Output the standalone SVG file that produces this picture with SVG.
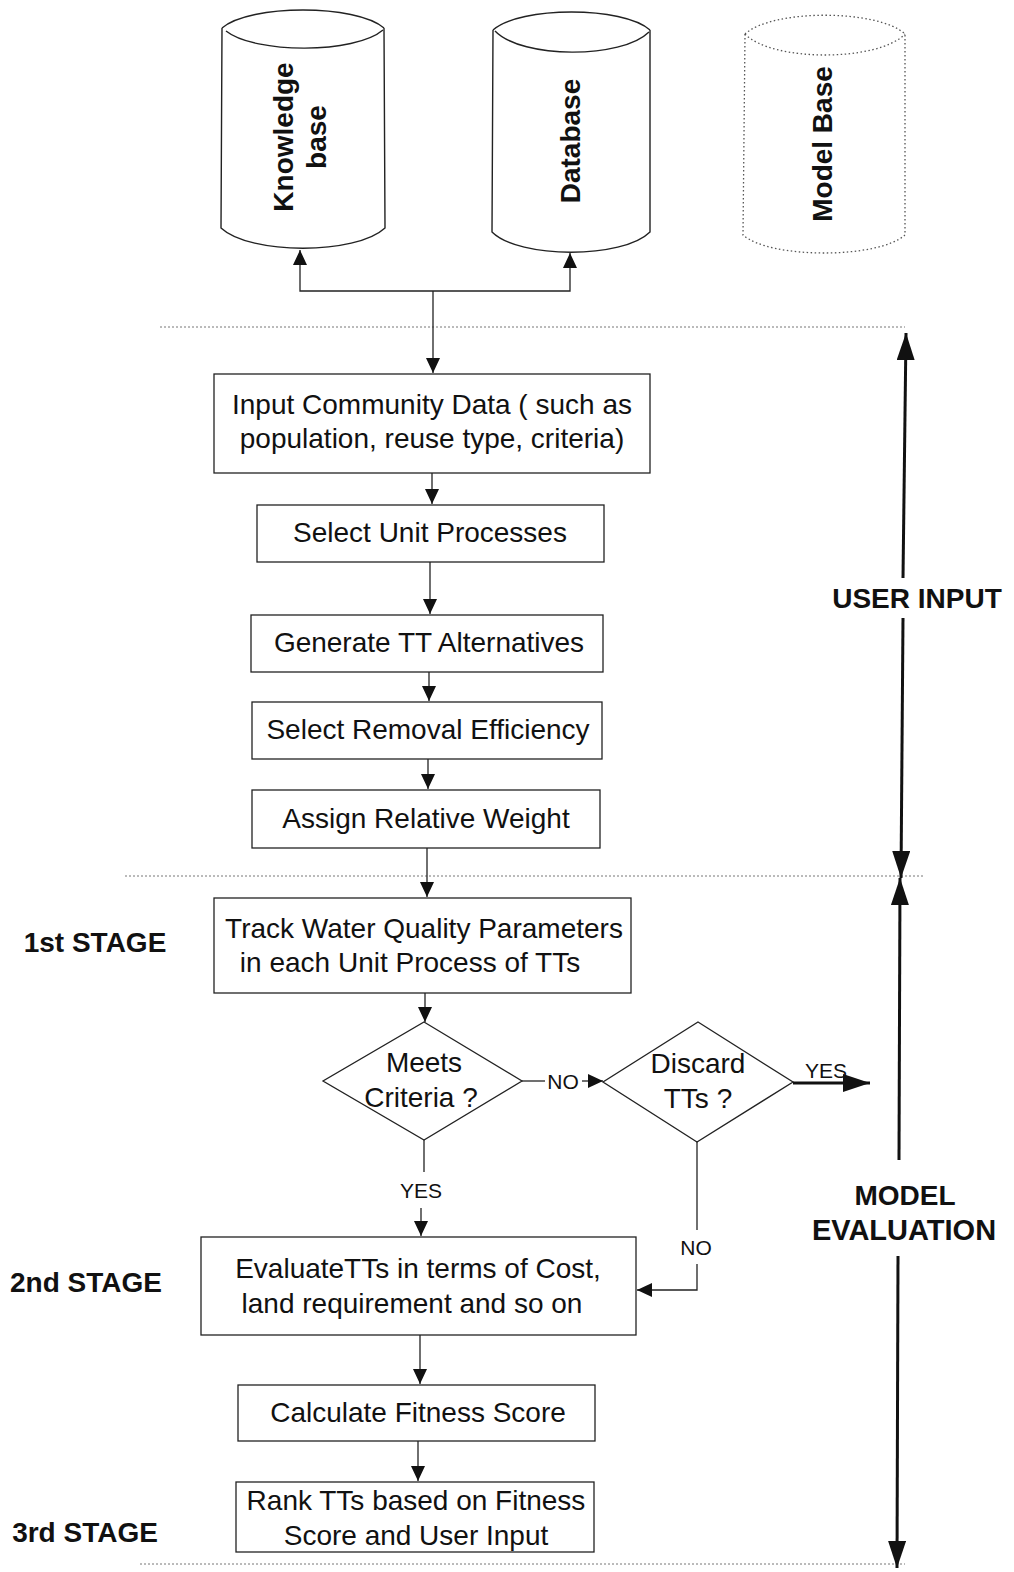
<svg xmlns="http://www.w3.org/2000/svg" width="1014" height="1572" viewBox="0 0 1014 1572">
<style>
.box{fill:#fff;stroke:#222;stroke-width:1.3}
.cyl{fill:none;stroke:#222;stroke-width:1.4}
.cyld{fill:none;stroke:#555;stroke-width:1.3;stroke-dasharray:1.5 2.5}
.t{font-family:"Liberation Sans",Arial,sans-serif;font-size:28px;fill:#111;text-anchor:middle}
.b{font-family:"Liberation Sans",Arial,sans-serif;font-size:28px;font-weight:bold;fill:#111;text-anchor:middle}
.s{font-family:"Liberation Sans",Arial,sans-serif;font-size:21px;fill:#111;text-anchor:middle}
.ln{fill:none;stroke:#222;stroke-width:1.3}
.lnb{fill:none;stroke:#111;stroke-width:3}
.dot{fill:none;stroke:#777;stroke-width:1;stroke-dasharray:2 2}
</style>
<defs>
<marker id="a" markerUnits="userSpaceOnUse" markerWidth="16" markerHeight="14" refX="15" refY="7" orient="auto"><path d="M0,0 L15,7 L0,14 Z" fill="#111"/></marker>
<marker id="A" markerUnits="userSpaceOnUse" markerWidth="28" markerHeight="18" refX="27" refY="9" orient="auto"><path d="M0,0 L27,9 L0,18 Z" fill="#111"/></marker>
</defs>
<g id="knowledge-base">
<path class="cyl" d="M222,28 C250,4 356,4 384,28"/>
<path class="cyl" d="M226,31 C255,54 355,54 383,30"/>
<path class="cyl" d="M222,28 L221,228 C250,255 356,255 385,228 L384,28"/>
<text class="b" transform="translate(293,137) rotate(-90)">Knowledge</text>
<text class="b" transform="translate(326,137) rotate(-90)">base</text>
</g>
<g id="database">
<path class="cyl" d="M493,30 C520,6 623,6 650,30"/>
<path class="cyl" d="M495,31 C522,59 622,59 649,32"/>
<path class="cyl" d="M493,30 L492,232 C519,259 623,259 650,232 L650,30"/>
<text class="b" transform="translate(580,141) rotate(-90)">Database</text>
</g>
<g id="model-base">
<path class="cyld" d="M745,34 C772,9 878,9 905,34"/>
<path class="cyld" d="M745,34 C772,62 878,62 905,34"/>
<path class="cyld" d="M745,34 L743,235 C770,259 878,259 905,235 L905,34"/>
<text class="b" transform="translate(832,144) rotate(-90)">Model Base</text>
</g>
<g id="separators">
<line class="dot" x1="160" y1="327" x2="905" y2="327"/>
<line class="dot" x1="125" y1="876" x2="925" y2="876"/>
<line class="dot" x1="140" y1="1564" x2="905" y2="1564"/>
</g>
<g id="input-community-data">
<rect class="box" x="214" y="374" width="436" height="99"/>
<text class="t" x="432" y="414">Input Community Data ( such as</text>
<text class="t" x="432" y="448">population, reuse type, criteria)</text>
</g>
<g id="select-unit-processes">
<rect class="box" x="257" y="505" width="347" height="57"/>
<text class="t" x="430" y="542">Select Unit Processes</text>
</g>
<g id="generate-tt-alternatives">
<rect class="box" x="251" y="615" width="352" height="57"/>
<text class="t" x="429" y="652">Generate TT Alternatives</text>
</g>
<g id="select-removal-efficiency">
<rect class="box" x="252" y="702" width="350" height="57"/>
<text class="t" x="428" y="739">Select Removal Efficiency</text>
</g>
<g id="assign-relative-weight">
<rect class="box" x="252" y="790" width="348" height="58"/>
<text class="t" x="426" y="828">Assign Relative Weight</text>
</g>
<g id="track-water-quality">
<rect class="box" x="214" y="898" width="417" height="95"/>
<text class="t" x="424" y="938">Track Water Quality Parameters</text>
<text class="t" x="410" y="972">in each Unit Process of TTs</text>
</g>
<g id="meets-criteria">
<path class="box" d="M424,1022 L522,1081 L424,1140 L323,1081 Z"/>
<text class="t" x="424" y="1072">Meets</text>
<text class="t" x="421" y="1107">Criteria ?</text>
</g>
<g id="discard-tts">
<path class="box" d="M698,1022 L793,1082 L697,1142 L603,1082 Z"/>
<text class="t" x="698" y="1073">Discard</text>
<text class="t" x="698" y="1108">TTs ?</text>
</g>
<g id="evaluate-tts">
<rect class="box" x="201" y="1237" width="435" height="98"/>
<text class="t" x="418" y="1278">EvaluateTTs in terms of Cost,</text>
<text class="t" x="412" y="1313">land requirement and so on</text>
</g>
<g id="calculate-fitness-score">
<rect class="box" x="238" y="1385" width="357" height="56"/>
<text class="t" x="418" y="1422">Calculate Fitness Score</text>
</g>
<g id="rank-tts">
<rect class="box" x="236" y="1482" width="358" height="70"/>
<text class="t" x="416" y="1510">Rank TTs based on Fitness</text>
<text class="t" x="416" y="1545">Score and User Input</text>
</g>
<g id="stage-labels">
<text class="b" x="95" y="952">1st STAGE</text>
<text class="b" x="86" y="1292">2nd STAGE</text>
<text class="b" x="85" y="1542">3rd STAGE</text>
<text class="b" x="917" y="608">USER INPUT</text>
<text class="b" x="905" y="1205">MODEL</text>
<text class="b" x="904" y="1240" style="font-size:29px">EVALUATION</text>
</g>
<g id="connectors">
<path class="ln" d="M433,291 L300,291 L300,250" marker-end="url(#a)"/>
<path class="ln" d="M433,291 L570,291 L570,253" marker-end="url(#a)"/>
<path class="ln" d="M433,291 L433,373" marker-end="url(#a)"/>
<path class="ln" d="M432,473 L432,504" marker-end="url(#a)"/>
<path class="ln" d="M430,562 L430,614" marker-end="url(#a)"/>
<path class="ln" d="M429,672 L429,701" marker-end="url(#a)"/>
<path class="ln" d="M428,759 L428,789" marker-end="url(#a)"/>
<path class="ln" d="M427,848 L427,897" marker-end="url(#a)"/>
<path class="ln" d="M425,993 L425,1022" marker-end="url(#a)"/>
<path class="ln" d="M522,1081 L545,1081"/>
<text class="s" x="563" y="1089">NO</text>
<path class="ln" d="M582,1081 L603,1081" marker-end="url(#a)"/>
<path class="lnb" d="M793,1083 L870,1083" marker-end="url(#A)"/>
<text class="s" x="826" y="1078">YES</text>
<path class="ln" d="M424,1140 L424,1172"/>
<text class="s" x="421" y="1198">YES</text>
<path class="ln" d="M421,1208 L421,1236" marker-end="url(#a)"/>
<path class="ln" d="M697,1142 L697,1230"/>
<text class="s" x="696" y="1255">NO</text>
<path class="ln" d="M697,1264 L697,1290 L637,1290" marker-end="url(#a)"/>
<path class="ln" d="M420,1335 L420,1384" marker-end="url(#a)"/>
<path class="ln" d="M418,1441 L418,1481" marker-end="url(#a)"/>
<path class="lnb" d="M903,578 L906,333" marker-end="url(#A)"/>
<path class="lnb" d="M903,618 L901,878" marker-end="url(#A)"/>
<path class="lnb" d="M899,1160 L900,878" marker-end="url(#A)"/>
<path class="lnb" d="M898,1256 L897,1568" marker-end="url(#A)"/>
</g>
</svg>
